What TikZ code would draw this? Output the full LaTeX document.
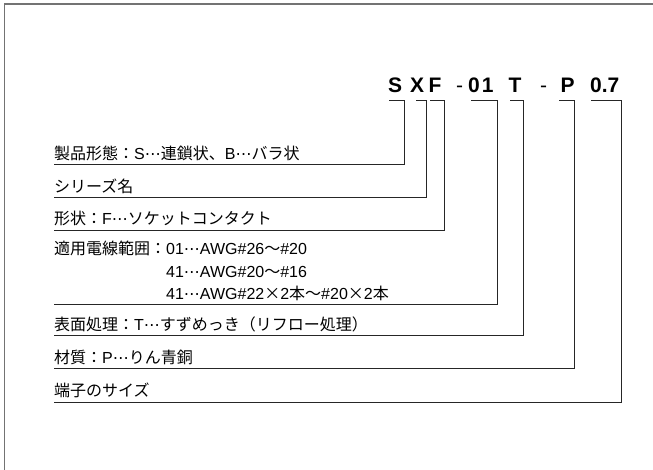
\documentclass[tikz,border=0pt]{standalone}
\usepackage{fontspec}
\setmainfont{Liberation Sans}
\newfontfamily\jp{Noto Sans CJK JP}
\newfontfamily\latf{Liberation Sans}
\newfontfamily\dvs{DejaVu Sans}
\newcommand\lat[1]{{\latf #1}}
\newcommand\dd{{\dvs ⋯}}
\begin{document}
\begin{tikzpicture}[x=1pt,y=-1pt,
  ttl/.style={font=\fontsize{21}{21}\selectfont\bfseries, inner sep=0pt, anchor=base west},
  dsh/.style={font=\fontsize{21}{21}\selectfont, inner sep=0pt, anchor=base west},
  lbl/.style={font=\jp\fontsize{16}{16}\selectfont, inner sep=0pt, anchor=base west},
  con/.style={line width=0.9pt, black!85}]
\useasboundingbox (0,0) rectangle (653,470);
\draw[black!55, line width=1.3pt] (4.5,470) -- (4.5,4) -- (653,4);
% title
\node[ttl] (tS) at (388,93) {S};
\node[ttl] (tX) at (410,93) {X};
\node[ttl] (tF) at (428.5,93) {F};
\node[dsh] (d1) at (456,93) {-};
\node[ttl] (t01) at (468,93) {0\kern2pt 1};
\node[ttl] (tT) at (508.5,93) {T};
\node[dsh] (d2) at (540,93) {-};
\node[ttl] (tP) at (560.5,93) {P};
\node[ttl] (t07) at (590,93) {0.7};
% labels
\node[lbl] (lS) at (54,160) {製品形態：\lat{S}\dd 連鎖状、\lat{B}\dd バラ状};
\node[lbl] (lX) at (54,193) {シリーズ名};
\node[lbl] (lF) at (54,225) {形状：\lat{F}\dd ソケットコンタクト};
\node[lbl] (l01a) at (54,255) {適用電線範囲：\lat{01}\dd\lat{AWG\#26}～\lat{\#20}};
\node[lbl] (l01b) at (54,277) {\phantom{適用電線範囲：}\lat{41}\dd\lat{AWG\#20}～\lat{\#16}};
\node[lbl] (l01c) at (54,299) {\phantom{適用電線範囲：}\lat{41}\dd\lat{AWG\#22}×\lat{2}本～\lat{\#20}×\lat{2}本};
\node[lbl] (lT) at (54,330) {表面処理：\lat{T}\dd すずめっき（リフロー処理）};
\node[lbl] (lP) at (54,363) {材質：\lat{P}\dd りん青銅};
\node[lbl] (l07) at (54,396) {端子のサイズ};
% underline ends
\coordinate (uS) at (54,164);
\coordinate (uX) at (54,197);
\coordinate (uF) at (54,230);
\coordinate (u01) at (54,304);
\coordinate (uT) at (54,335);
\coordinate (uP) at (54,368);
\coordinate (u07) at (54,402);
% connectors
\draw[con] ([shift={(1pt,-7pt)}]tS.south west) -| ([xshift=2pt]tS.south east |- uS) -- (uS);
\draw[con] ([shift={(6pt,-7pt)}]tX.south west) -| ([xshift=2pt]tX.south east |- uX) -- (uX);
\draw[con] ([shift={(1.5pt,-7pt)}]tF.south west) -| ([xshift=2.7pt]tF.south east |- uF) -- (uF);
\draw[con] ([shift={(3pt,-7pt)}]t01.south west) -| ([xshift=3.5pt]t01.south east |- u01) -- (u01);
\draw[con] ([shift={(1.5pt,-7pt)}]tT.south west) -| ([xshift=1.7pt]tT.south east |- uT) -- (uT);
\draw[con] ([shift={(-1.5pt,-7pt)}]tP.south west) -| ([xshift=0pt]tP.south east |- uP) -- (uP);
\draw[con] ([shift={(1pt,-7pt)}]t07.south west) -| ([xshift=2pt]t07.south east |- u07) -- (u07);
\end{tikzpicture}
\end{document}
